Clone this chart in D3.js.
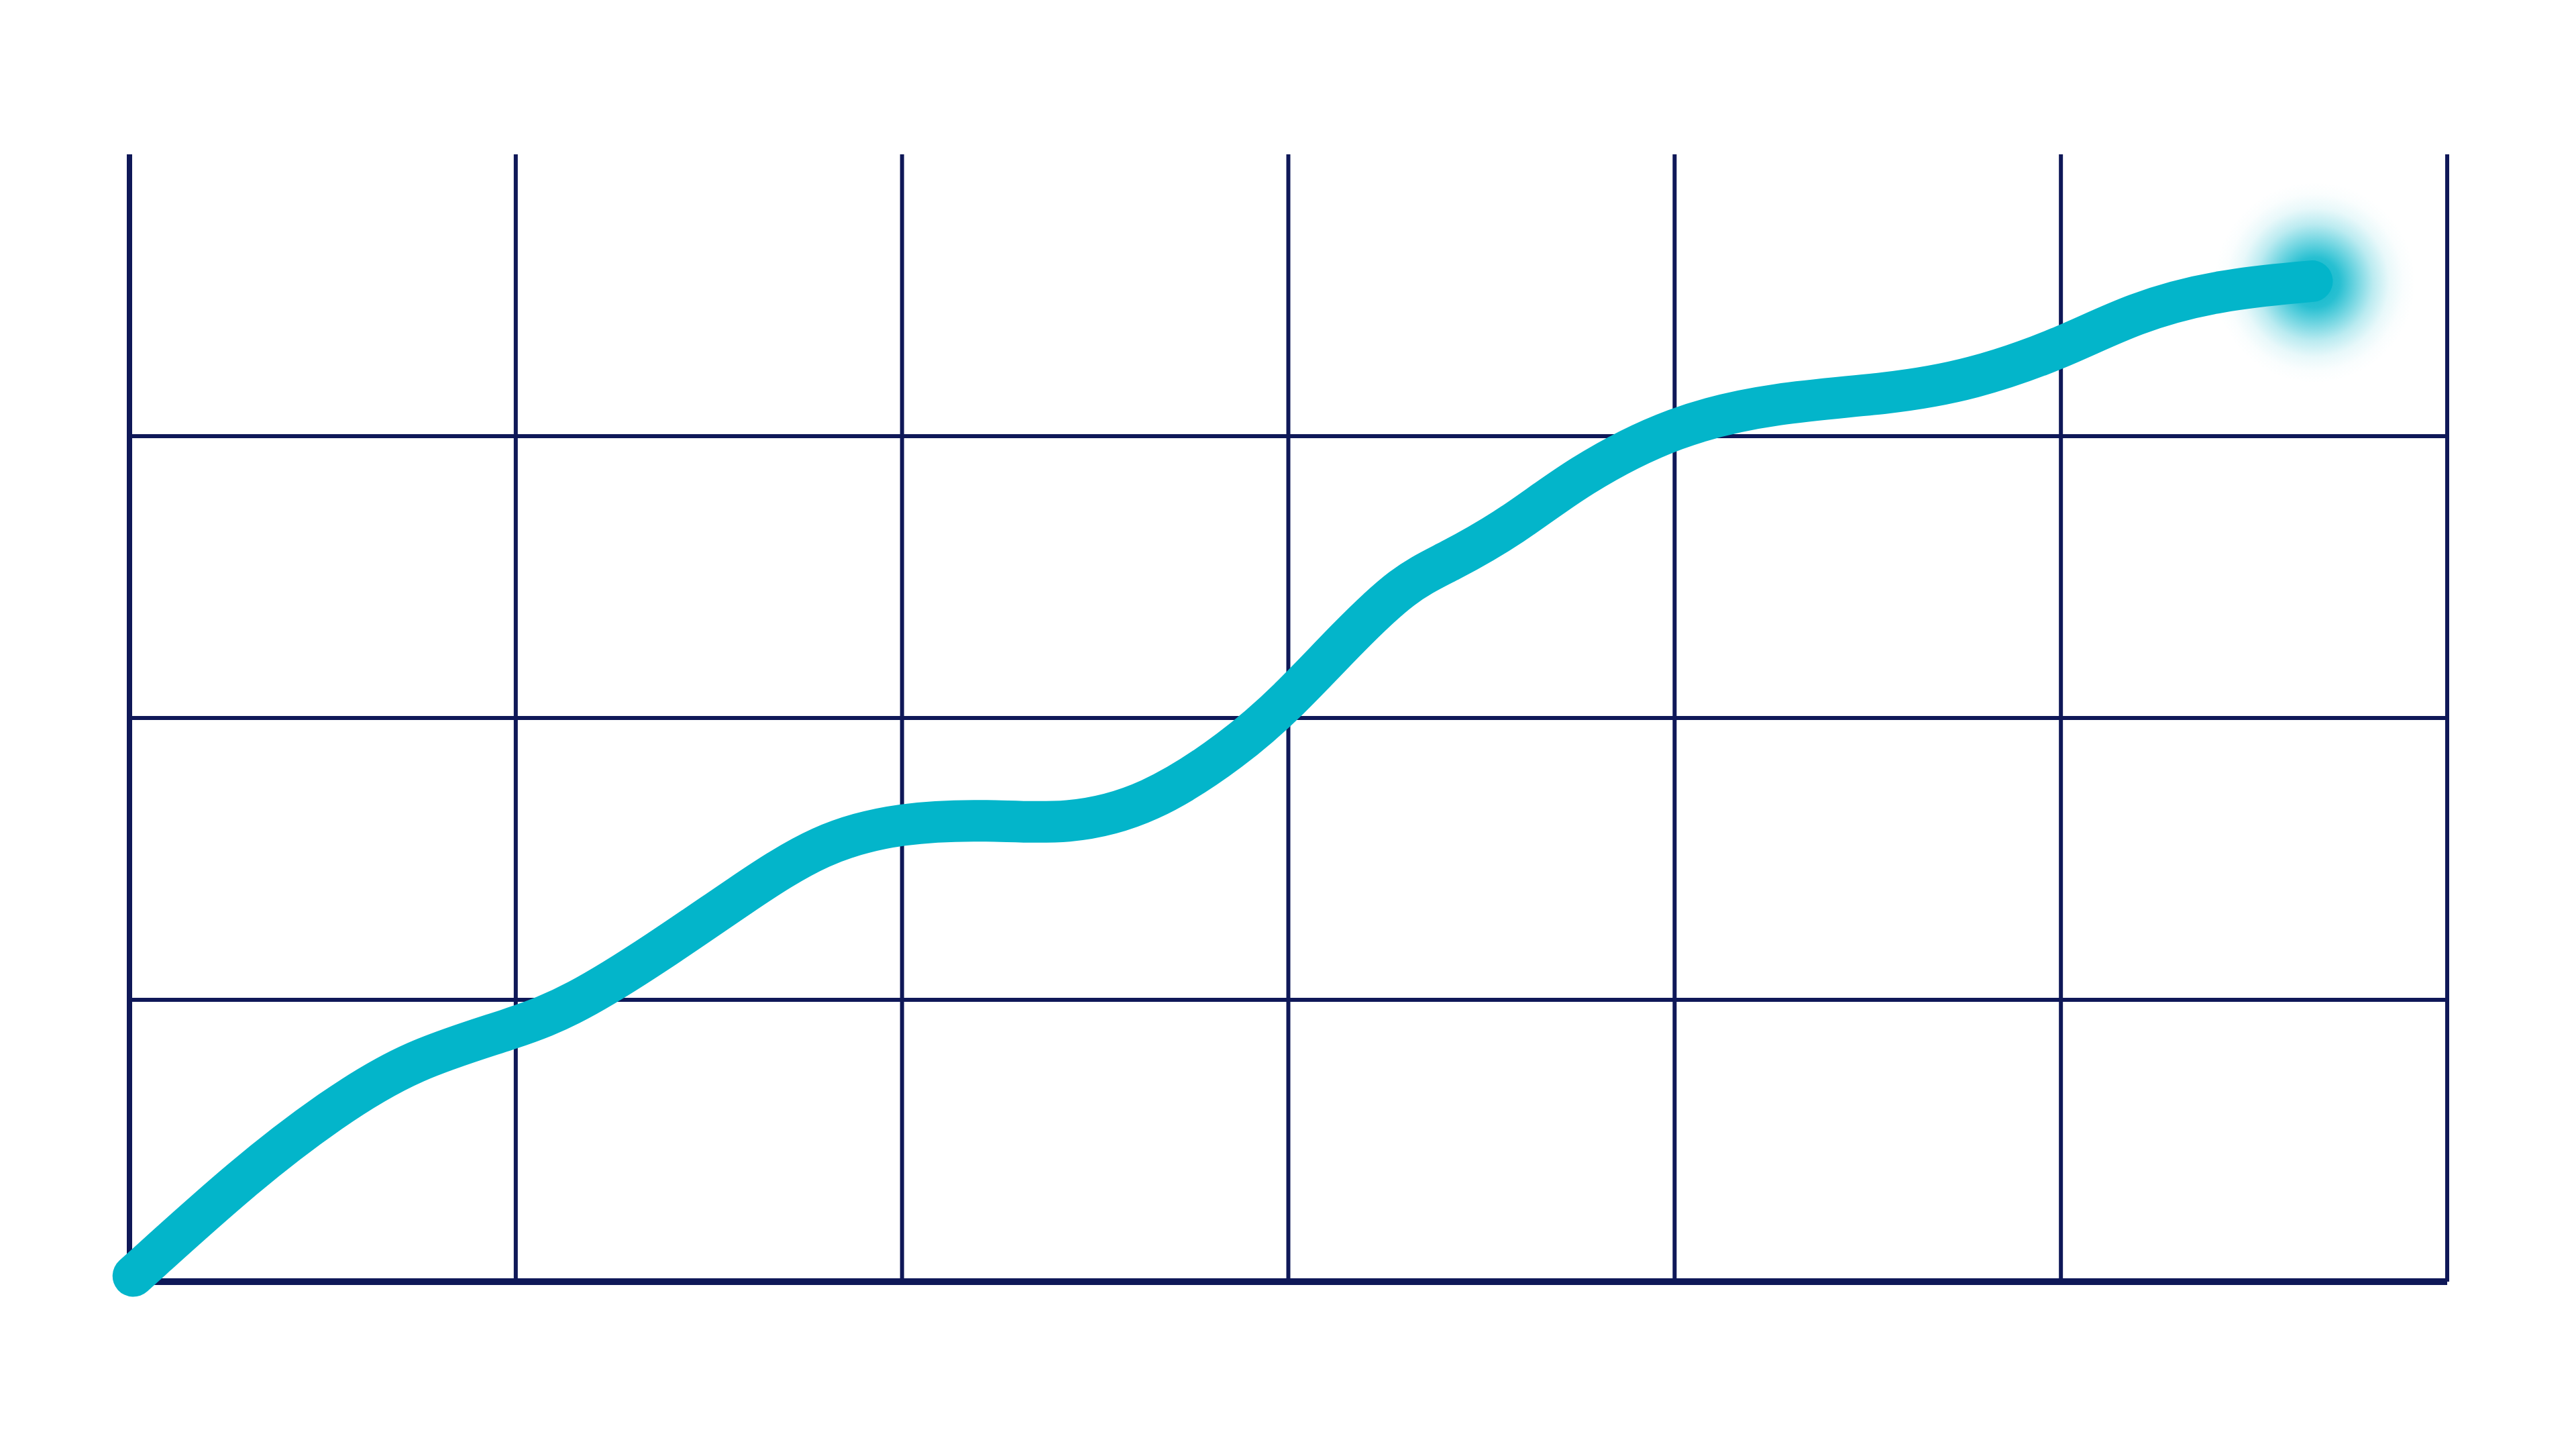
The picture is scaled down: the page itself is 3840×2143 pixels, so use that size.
<!DOCTYPE html>
<html>
<head>
<meta charset="utf-8">
<script src="https://cdn.jsdelivr.net/npm/d3@7"></script>
<style>
	html, body { margin: 0; padding: 0; background: #ffffff; }
	svg { display: block; }
</style>
</head>
<body>
<div class="chart"></div>
<script>
// grid steps (columns on x, rows on y)
var xTicks = [0, 1, 2, 3, 4, 5, 6];
var yTicks = [0, 1, 2, 3, 4];

// the curve in grid units
var xValues = [0.01, 0.30, 0.52, 0.73, 1.00, 1.15, 1.37, 1.58, 1.79, 2.00, 2.22, 2.43, 2.64, 2.86, 3.00, 3.15, 3.30, 3.41, 3.58, 3.75, 4.00, 4.26, 4.56, 4.77, 5.00, 5.19, 5.41, 5.65];
var yValues = [0.02, 0.38, 0.61, 0.79, 0.90, 0.98, 1.17, 1.37, 1.56, 1.63, 1.64, 1.62, 1.69, 1.89, 2.06, 2.28, 2.48, 2.55, 2.68, 2.86, 3.04, 3.12, 3.15, 3.20, 3.31, 3.44, 3.52, 3.55];

var width = 3840;
var height = 2143;
var margin = { top: 230, right: 192, bottom: 233, left: 193 };

var navy = "#0f1858";
var cyan = "#03b5ca";

var svg = d3.select(".chart").append("svg")
	.attr("width", width)
	.attr("height", height);

var x = d3.scaleLinear()
	.domain([0, 6])
	.range([margin.left, width - margin.right]);

var y = d3.scaleLinear()
	.domain([0, 4])
	.range([height - margin.bottom, margin.top]);

var points = xValues.map(function(d, i){
	return [ d, yValues[i] ];
});

// vertical grid lines
svg.append("g")
	.selectAll("line")
	.data( xTicks )
	.enter()
	.append("line")
	.attr("x1", function(d){ return x(d); })
	.attr("x2", function(d){ return x(d); })
	.attr("y1", y(4))
	.attr("y2", y(0))
	.attr("stroke", navy)
	.attr("stroke-width", function(d){ return d === 0 ? 8 : 6; });

// horizontal grid lines (no line on top)
svg.append("g")
	.selectAll("line")
	.data( yTicks.filter(function(d){ return d < 4; }) )
	.enter()
	.append("line")
	.attr("x1", x(0))
	.attr("x2", x(6))
	.attr("y1", function(d){ return y(d); })
	.attr("y2", function(d){ return y(d); })
	.attr("stroke", navy)
	.attr("stroke-width", function(d){ return d === 0 ? 10 : 6; });

// soft glow behind the end of the line
var defs = svg.append("defs");
var glow = defs.append("radialGradient").attr("id", "glow");
var glowStops = [ [0, 1], [0.25, 0.85], [0.42, 0.55], [0.58, 0.27], [0.74, 0.09], [0.88, 0.02], [1, 0] ];
glowStops.forEach(function(s){
	glow.append("stop")
		.attr("offset", s[0])
		.attr("stop-color", cyan)
		.attr("stop-opacity", s[1]);
});

var last = points[ points.length - 1 ];
svg.append("circle")
	.attr("cx", x(last[0]) + 4)
	.attr("cy", y(last[1]) + 2)
	.attr("r", 150)
	.attr("fill", "url(#glow)");

var line = d3.line()
	.x(function(d){ return x(d[0]); })
	.y(function(d){ return y(d[1]); })
	.curve(d3.curveBasis);

svg.append("path")
	.datum( points )
	.attr("d", line)
	.attr("fill", "none")
	.attr("stroke", cyan)
	.attr("stroke-width", 62)
	.attr("stroke-linecap", "round")
	.attr("stroke-linejoin", "round");
</script>
</body>
</html>
